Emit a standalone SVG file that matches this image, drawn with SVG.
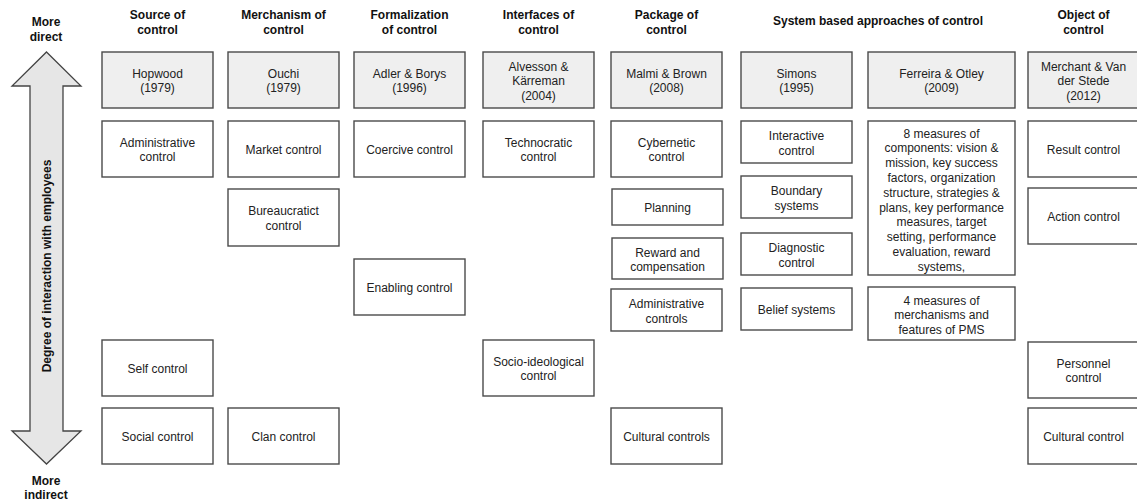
<svg xmlns="http://www.w3.org/2000/svg" width="1137" height="501" viewBox="0 0 1137 501">
<style>
  .hd { font-family: "Liberation Sans", Arial, sans-serif; font-size: 12px; font-weight: bold; fill: #111; text-anchor: middle; }
  .tx { font-family: "Liberation Sans", Arial, sans-serif; font-size: 12px; fill: #222; text-anchor: middle; }
  .box { fill: #ffffff; stroke: #4a4a4a; stroke-width: 1.4; }
  .ref { fill: #efefef; stroke: #4a4a4a; stroke-width: 1.4; }
  .arrow { fill: #e6e6e6; stroke: #444; stroke-width: 1.3; stroke-linejoin: miter; }
</style>
<rect width="1137" height="501" fill="#ffffff"/>

<g id="axis">
  <polygon class="arrow" points="46.5,52 81,86 63,86 63,431 81,431 46.5,464 12,431 30,431 30,86 12,86"/>
  <text class="hd" x="46.5" y="266" transform="rotate(-90 46.5 266)" dominant-baseline="central">Degree of interaction with employees</text>
  <text class="hd" x="46" y="26">More</text>
  <text class="hd" x="46" y="41">direct</text>
  <text class="hd" x="46" y="485">More</text>
  <text class="hd" x="46" y="499">indirect</text>
</g>

<g id="headers">
  <text class="hd" x="157.5" y="19">Source of</text>
  <text class="hd" x="157.5" y="34">control</text>
  <text class="hd" x="283.5" y="19">Merchanism of</text>
  <text class="hd" x="283.5" y="34">control</text>
  <text class="hd" x="409.5" y="19">Formalization</text>
  <text class="hd" x="409.5" y="34">of control</text>
  <text class="hd" x="538.5" y="19">Interfaces of</text>
  <text class="hd" x="538.5" y="34">control</text>
  <text class="hd" x="666.5" y="19">Package of</text>
  <text class="hd" x="666.5" y="34">control</text>
  <text class="hd" x="878" y="25">System based approaches of control</text>
  <text class="hd" x="1083.5" y="19">Object of</text>
  <text class="hd" x="1083.5" y="34">control</text>
</g>

<!-- Column 1 -->
<g id="hopwood">
  <rect class="ref" x="102" y="52" width="111" height="56"/>
  <text class="tx" x="157.5" y="77.5">Hopwood</text>
  <text class="tx" x="157.5" y="92">(1979)</text>
</g>
<g id="administrative-control">
  <rect class="box" x="102" y="121" width="111" height="56"/>
  <text class="tx" x="157.5" y="146.5">Administrative</text>
  <text class="tx" x="157.5" y="161">control</text>
</g>
<g id="self-control">
  <rect class="box" x="102" y="340" width="111" height="56"/>
  <text class="tx" x="157.5" y="372.5">Self control</text>
</g>
<g id="social-control">
  <rect class="box" x="102" y="408" width="111" height="56"/>
  <text class="tx" x="157.5" y="440.5">Social control</text>
</g>

<!-- Column 2 -->
<g id="ouchi">
  <rect class="ref" x="228" y="52" width="111" height="56"/>
  <text class="tx" x="283.5" y="77.5">Ouchi</text>
  <text class="tx" x="283.5" y="92">(1979)</text>
</g>
<g id="market-control">
  <rect class="box" x="228" y="121" width="111" height="56"/>
  <text class="tx" x="283.5" y="153.5">Market control</text>
</g>
<g id="bureaucratic-control">
  <rect class="box" x="228" y="189" width="111" height="57"/>
  <text class="tx" x="283.5" y="215">Bureaucratict</text>
  <text class="tx" x="283.5" y="229.5">control</text>
</g>
<g id="clan-control">
  <rect class="box" x="228" y="408" width="111" height="56"/>
  <text class="tx" x="283.5" y="440.5">Clan control</text>
</g>

<!-- Column 3 -->
<g id="adler-borys">
  <rect class="ref" x="354" y="52" width="111" height="56"/>
  <text class="tx" x="409.5" y="77.5">Adler &amp; Borys</text>
  <text class="tx" x="409.5" y="92">(1996)</text>
</g>
<g id="coercive-control">
  <rect class="box" x="354" y="121" width="111" height="56"/>
  <text class="tx" x="409.5" y="153.5">Coercive control</text>
</g>
<g id="enabling-control">
  <rect class="box" x="354" y="259" width="111" height="56"/>
  <text class="tx" x="409.5" y="291.5">Enabling control</text>
</g>

<!-- Column 4 -->
<g id="alvesson-karreman">
  <rect class="ref" x="483" y="52" width="111" height="56"/>
  <text class="tx" x="538.5" y="70.5">Alvesson &amp;</text>
  <text class="tx" x="538.5" y="85">Kärreman</text>
  <text class="tx" x="538.5" y="99.5">(2004)</text>
</g>
<g id="technocratic-control">
  <rect class="box" x="483" y="121" width="111" height="56"/>
  <text class="tx" x="538.5" y="146.5">Technocratic</text>
  <text class="tx" x="538.5" y="161">control</text>
</g>
<g id="socio-ideological-control">
  <rect class="box" x="483" y="340" width="111" height="56"/>
  <text class="tx" x="538.5" y="365.5">Socio-ideological</text>
  <text class="tx" x="538.5" y="380">control</text>
</g>

<!-- Column 5 -->
<g id="malmi-brown">
  <rect class="ref" x="611" y="52" width="111" height="56"/>
  <text class="tx" x="666.5" y="77.5">Malmi &amp; Brown</text>
  <text class="tx" x="666.5" y="92">(2008)</text>
</g>
<g id="cybernetic-control">
  <rect class="box" x="611" y="121" width="111" height="56"/>
  <text class="tx" x="666.5" y="146.5">Cybernetic</text>
  <text class="tx" x="666.5" y="161">control</text>
</g>
<g id="planning">
  <rect class="box" x="612" y="189" width="111" height="36"/>
  <text class="tx" x="667.5" y="211.5">Planning</text>
</g>
<g id="reward-compensation">
  <rect class="box" x="612" y="238" width="111" height="41"/>
  <text class="tx" x="667.5" y="256.5">Reward and</text>
  <text class="tx" x="667.5" y="271">compensation</text>
</g>
<g id="administrative-controls">
  <rect class="box" x="611" y="289" width="111" height="42"/>
  <text class="tx" x="666.5" y="308">Administrative</text>
  <text class="tx" x="666.5" y="322.5">controls</text>
</g>
<g id="cultural-controls">
  <rect class="box" x="611" y="408" width="111" height="56"/>
  <text class="tx" x="666.5" y="440.5">Cultural controls</text>
</g>

<!-- Column 6 -->
<g id="simons">
  <rect class="ref" x="741" y="52" width="111" height="56"/>
  <text class="tx" x="796.5" y="77.5">Simons</text>
  <text class="tx" x="796.5" y="92">(1995)</text>
</g>
<g id="interactive-control">
  <rect class="box" x="741" y="121" width="111" height="42"/>
  <text class="tx" x="796.5" y="140">Interactive</text>
  <text class="tx" x="796.5" y="154.5">control</text>
</g>
<g id="boundary-systems">
  <rect class="box" x="741" y="176" width="111" height="42"/>
  <text class="tx" x="796.5" y="195">Boundary</text>
  <text class="tx" x="796.5" y="209.5">systems</text>
</g>
<g id="diagnostic-control">
  <rect class="box" x="741" y="233" width="111" height="42"/>
  <text class="tx" x="796.5" y="252">Diagnostic</text>
  <text class="tx" x="796.5" y="266.5">control</text>
</g>
<g id="belief-systems">
  <rect class="box" x="741" y="288" width="111" height="42"/>
  <text class="tx" x="796.5" y="313.5">Belief systems</text>
</g>

<!-- Column 7 -->
<g id="ferreira-otley">
  <rect class="ref" x="868" y="52" width="147" height="56"/>
  <text class="tx" x="941.5" y="77.5">Ferreira &amp; Otley</text>
  <text class="tx" x="941.5" y="92">(2009)</text>
</g>
<g id="eight-measures">
  <rect class="box" x="868" y="121" width="147" height="154"/>
  <text class="tx" x="941.5" y="137.5">8 measures of</text>
  <text class="tx" x="941.5" y="152.3">components: vision &amp;</text>
  <text class="tx" x="941.5" y="167.1">mission, key success</text>
  <text class="tx" x="941.5" y="181.9">factors, organization</text>
  <text class="tx" x="941.5" y="196.7">structure, strategies &amp;</text>
  <text class="tx" x="941.5" y="211.5">plans, key performance</text>
  <text class="tx" x="941.5" y="226.3">measures, target</text>
  <text class="tx" x="941.5" y="241.1">setting, performance</text>
  <text class="tx" x="941.5" y="255.9">evaluation, reward</text>
  <text class="tx" x="941.5" y="270.7">systems,</text>
</g>
<g id="four-measures">
  <rect class="box" x="868" y="287" width="147" height="53"/>
  <text class="tx" x="941.5" y="304.5">4 measures of</text>
  <text class="tx" x="941.5" y="319">merchanisms and</text>
  <text class="tx" x="941.5" y="333.5">features of PMS</text>
</g>

<!-- Column 8 -->
<g id="merchant-van-der-stede">
  <rect class="ref" x="1028" y="52" width="111" height="56"/>
  <text class="tx" x="1083.5" y="70.5">Merchant &amp; Van</text>
  <text class="tx" x="1083.5" y="85">der Stede</text>
  <text class="tx" x="1083.5" y="99.5">(2012)</text>
</g>
<g id="result-control">
  <rect class="box" x="1028" y="121" width="111" height="56"/>
  <text class="tx" x="1083.5" y="153.5">Result control</text>
</g>
<g id="action-control">
  <rect class="box" x="1028" y="188" width="111" height="56"/>
  <text class="tx" x="1083.5" y="220.5">Action control</text>
</g>
<g id="personnel-control">
  <rect class="box" x="1028" y="342" width="111" height="56"/>
  <text class="tx" x="1083.5" y="367.5">Personnel</text>
  <text class="tx" x="1083.5" y="382">control</text>
</g>
<g id="cultural-control">
  <rect class="box" x="1028" y="408" width="111" height="56"/>
  <text class="tx" x="1083.5" y="440.5">Cultural control</text>
</g>

<g id="connectors"></g>
</svg>
